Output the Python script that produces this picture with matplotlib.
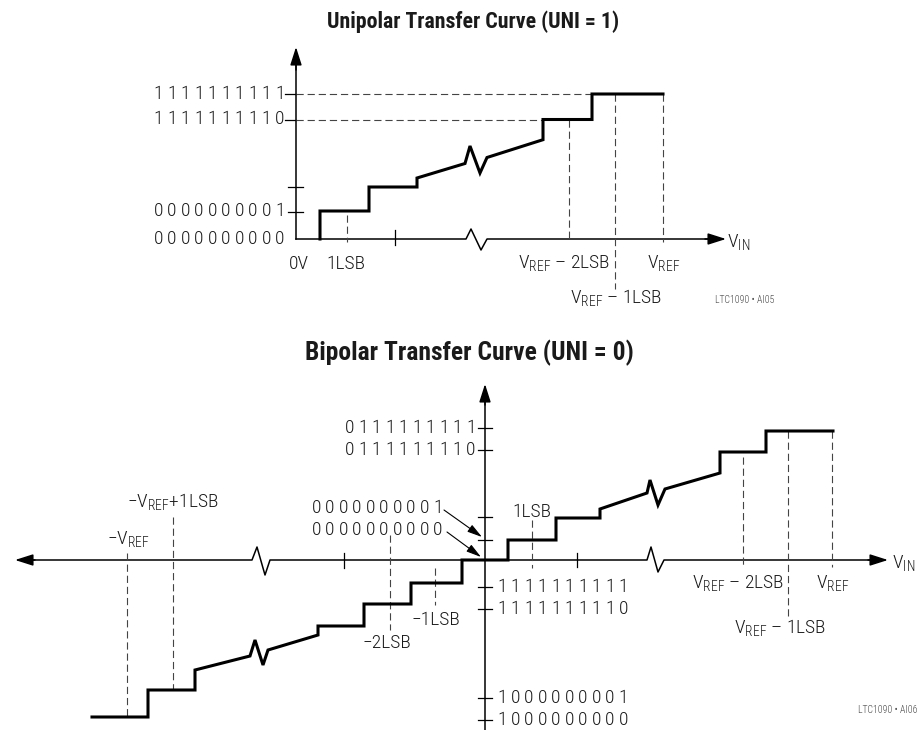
import matplotlib
matplotlib.use("Agg")
import matplotlib.pyplot as plt
from matplotlib import font_manager

names = {f.name for f in font_manager.fontManager.ttflist}
narrow = sorted(n for n in names if "Narrow" in n or "Condensed" in n)
prefer = ["Liberation Sans Narrow", "Roboto Condensed", "DejaVu Sans Condensed"] + narrow + ["Roboto"]
FONT = next(n for n in prefer + ["DejaVu Sans"] if n in names)
plt.rcParams["font.family"] = [FONT, "DejaVu Sans"]
plt.rcParams["font.weight"] = "light"
plt.rcParams["mathtext.fontset"] = "custom"
plt.rcParams["mathtext.rm"] = FONT + ":light"
plt.rcParams["mathtext.it"] = FONT + ":light"

# ---- unipolar curve (pixel coords of the drawing) ----
uni_curve_x = [320, 320, 369, 369, 417, 417, 465, 470, 480, 487, 543, 543, 592, 592, 663]
uni_curve_y = [239, 211, 211, 187, 187, 178, 163.5, 146, 173, 157.5, 139.7, 119.5, 119.5, 94, 94]
uni_axis_x = [296, 466, 471, 481, 487, 712]
uni_axis_y = [239, 239, 229, 250, 239, 239]
uni_codes = ["1111111111", "1111111110", "0000000001", "0000000000"]
uni_code_y = [94, 119.5, 211.5, 239]
uni_tick_y = [94, 119.5, 187, 211.5]

# ---- bipolar curve ----
bip_curve_x = [92, 148, 148, 195, 195, 250, 255, 263, 268, 318, 318, 364, 364, 411, 411,
               462, 462, 508, 508, 556, 556, 600, 600, 647, 650, 658, 665, 720, 720, 766, 766, 833]
bip_curve_y = [717, 717, 690, 690, 670, 656, 640, 665, 650, 635, 626, 626, 604, 604, 583,
               583, 560, 560, 540, 540, 518, 518, 509, 493, 480, 505, 489, 473, 452, 452, 431, 431]
bip_axis_x = [30, 252, 257, 265, 270, 647, 651, 658, 664, 873]
bip_axis_y = [560, 560, 547, 575, 560, 560, 547, 572, 560, 560]
bip_pos_codes = ["0111111111", "0111111110"]
bip_pos_y = [428, 450]
bip_zero_codes = ["0000000001", "0000000000"]
bip_zero_y = [508, 530]
bip_neg_codes = ["1111111111", "1111111110", "1000000001", "1000000000"]
bip_neg_y = [587, 609, 698, 720]
bip_tick_y = [428, 450, 517, 540, 587, 609, 698, 720]

VREF = r"$\mathrm{V}_{\mathrm{REF}}$"
TXT = "#1a1a1a"
DASH = (0, (6.5, 3.5))
FS = 14

fig = plt.figure(figsize=(9.19, 7.3), dpi=100)
ax = fig.add_axes([0, 0, 1, 1])
ax.set_xlim(0, 919)
ax.set_ylim(730, 0)
ax.axis("off")
renderer = fig.canvas.get_renderer()


def fit_title(x, y, s, width):
    # scale the title so it spans the same width as in the datasheet
    t = ax.text(x, y, s, ha="center", va="center", fontsize=16, fontweight="bold", color=TXT)
    w = t.get_window_extent(renderer).width
    t.set_fontsize(16 * width / w)


def code_label(x, y, s, right=True, pitch=13.5):
    # digits of the binary codes are spread out one by one
    n = len(s)
    for i, ch in enumerate(s):
        if right:
            cx = x - (n - 1 - i) * pitch - 4
        else:
            cx = x + i * pitch + 4
        ax.text(cx, y, ch, ha="center", va="center", fontsize=FS, color=TXT)


def arrow(x0, y0, x1, y1, style="-|>"):
    ax.annotate("", xy=(x1, y1), xytext=(x0, y0),
                arrowprops=dict(arrowstyle=style + ",head_length=1.1,head_width=0.35",
                                lw=1.1, color="k", shrinkA=0, shrinkB=0))


def dline(x0, y0, x1, y1):
    ax.plot([x0, x1], [y0, y1], color="#444444", lw=0.8, linestyle=DASH)


def label(x, y, s, ha="center", size=FS):
    ax.text(x, y, s, ha=ha, va="center", fontsize=size, color=TXT)


# ================= Unipolar =================
fit_title(473, 22, "Unipolar Transfer Curve (UNI = 1)", 293)

ax.plot([296, 296], [239, 62], color="k", lw=1.1)
arrow(296, 70, 296, 47)
ax.plot(uni_axis_x, uni_axis_y, color="k", lw=1.1)
arrow(705, 239, 726, 239)

for yy in uni_tick_y:
    ax.plot([288, 303] if yy == 187 or yy == 211.5 else [285, 296], [yy, yy], color="k", lw=0.9)
ax.plot([395, 395], [230, 245], color="k", lw=0.9)
for code, yy in zip(uni_codes, uni_code_y):
    code_label(284, yy, code)

dline(296, 94, 592, 94)
dline(296, 119.5, 543, 119.5)
dline(347, 215, 347, 242)
dline(569, 119.5, 569, 242)
dline(615, 94, 615, 289)
dline(663, 94, 663, 242)

ax.plot(uni_curve_x, uni_curve_y, color="k", lw=2.2, solid_joinstyle="miter")

label(299, 264, "0V")
label(346, 264, "1LSB")
label(564, 263, VREF + " \u2013 2LSB")
label(664, 263, VREF)
label(616, 298, VREF + " \u2013 1LSB")
label(727, 242, r"$\mathrm{V}_{\mathrm{IN}}$", ha="left")
ax.text(715, 300, "LTC1090 \u2022 AI05", ha="left", va="center", fontsize=7, color="#444444")

# ================= Bipolar =================
fit_title(469, 353, "Bipolar Transfer Curve (UNI = 0)", 328)

ax.plot([485, 485], [730, 400], color="k", lw=1.1)
arrow(485, 405, 485, 384)
ax.plot(bip_axis_x, bip_axis_y, color="k", lw=1.1)
arrow(35, 560, 15, 560)
arrow(868, 560, 888, 560)

for yy in bip_tick_y:
    ax.plot([478, 492], [yy, yy], color="k", lw=0.9)
ax.plot([344, 344], [553, 568], color="k", lw=0.9)
ax.plot([577, 577], [553, 567], color="k", lw=0.9)

for code, yy in zip(bip_pos_codes, bip_pos_y):
    code_label(475, yy, code)
for code, yy in zip(bip_zero_codes, bip_zero_y):
    code_label(442, yy, code)
for code, yy in zip(bip_neg_codes, bip_neg_y):
    code_label(498, yy, code, right=False)

ax.annotate("", xy=(482, 537), xytext=(444, 510),
            arrowprops=dict(arrowstyle="-|>,head_length=0.9,head_width=0.25", lw=0.8, color="k",
                            shrinkA=0, shrinkB=0))
ax.annotate("", xy=(481, 557), xytext=(447, 532),
            arrowprops=dict(arrowstyle="-|>,head_length=0.9,head_width=0.25", lw=0.8, color="k",
                            shrinkA=0, shrinkB=0))

dline(127, 553, 127, 717)
dline(173, 517, 173, 690)
dline(390, 535, 390, 630)
dline(435, 568, 435, 605)
dline(532, 520, 532, 568)
dline(743, 457, 743, 567)
dline(788, 431, 788, 617)
dline(832, 431, 832, 567)

ax.plot(bip_curve_x, bip_curve_y, color="k", lw=2.2, solid_joinstyle="miter")

label(128, 539, "\u2212" + VREF)
label(173, 502, "\u2212" + VREF + "+1LSB")
label(387, 643, "\u22122LSB")
label(436, 620, "\u22121LSB")
label(532, 512, "1LSB")
label(738, 583, VREF + " \u2013 2LSB")
label(833, 583, VREF)
label(780, 628, VREF + " \u2013 1LSB")
label(892, 563, r"$\mathrm{V}_{\mathrm{IN}}$", ha="left")
ax.text(858, 710, "LTC1090 \u2022 AI06", ha="left", va="center", fontsize=7, color="#444444")

fig.savefig("out.png", dpi=100)
